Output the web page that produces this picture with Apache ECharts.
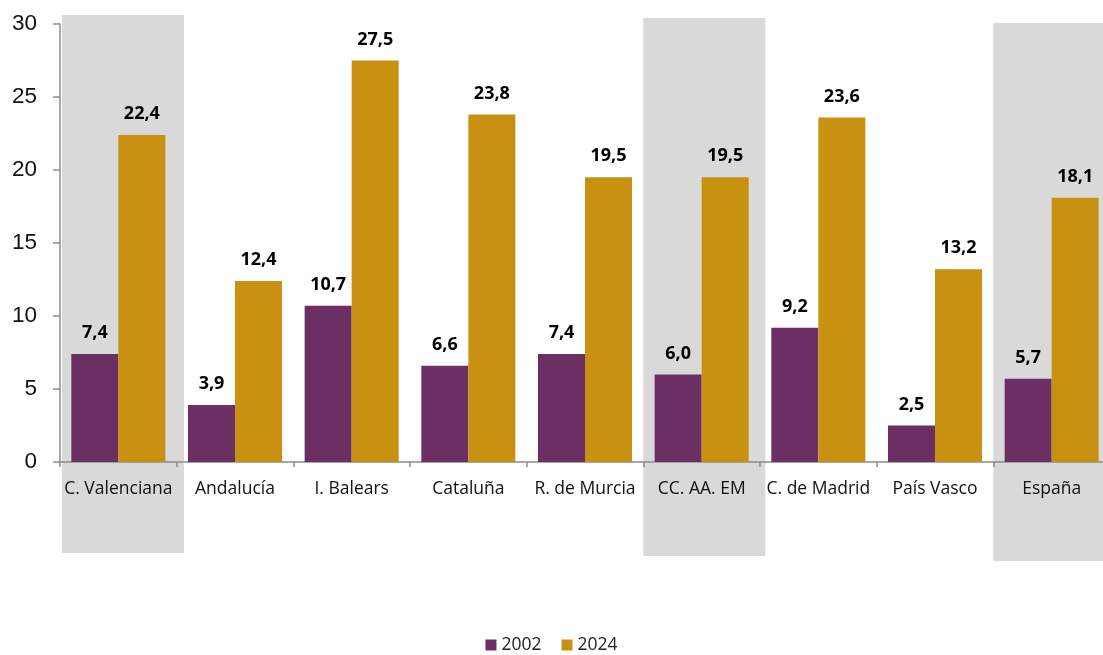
<!DOCTYPE html>
<html>
<head>
<meta charset="utf-8">
<script src="https://cdn.jsdelivr.net/npm/echarts@6/dist/echarts.min.js"></script>
<style>
html,body{margin:0;padding:0;background:#fff;}
#chart{width:1103px;height:655px;}
</style>
</head>
<body>
<div id="chart"></div>
<script>
const categories = ['C. Valenciana','Andalucía','I. Balears','Cataluña','R. de Murcia','CC. AA. EM','C. de Madrid','País Vasco','España'];
const values2002 = [7.4, 3.9, 10.7, 6.6, 7.4, 6.0, 9.2, 2.5, 5.7];
const values2024 = [22.4, 12.4, 27.5, 23.8, 19.5, 19.5, 23.6, 13.2, 18.1];
const highlighted = ['C. Valenciana','CC. AA. EM','España'];
const seriesNames = ['2002','2024'];

const chart = echarts.init(document.getElementById('chart'), null, {renderer:'canvas'});
const fmt = p => p.value.toFixed(1).replace('.', ',');
const labelStyle = {show:true, position:'top', distance:12, formatter:fmt,
  fontFamily:'Open Sans', fontWeight:'bold', fontSize:18, color:'#000'};

const option = {
  animation:false,
  backgroundColor:'#fff',
  grid:{left:60, top:24, bottom:193, width:1050, containLabel:false, outerBoundsMode:'none'},
  legend:{
    bottom:-4, left:'center', itemWidth:11, itemHeight:11, itemGap:20,
    icon:'rect',
    textStyle:{fontFamily:'Open Sans', fontSize:17.5, color:'#222'},
    data:seriesNames
  },
  xAxis:{
    type:'category', data:categories,
    axisLine:{lineStyle:{color:'#8c8c8c', width:1.5}},
    axisTick:{show:true, length:5, alignWithLabel:false, lineStyle:{color:'#8c8c8c', width:1.5}},
    axisLabel:{margin:18, fontFamily:'Open Sans', fontSize:17.5, color:'#111', interval:0}
  },
  yAxis:{
    type:'value', min:0, max:30, interval:5,
    splitLine:{show:false},
    axisLine:{show:true, lineStyle:{color:'#8c8c8c', width:1.5}},
    axisTick:{show:true, length:7, lineStyle:{color:'#8c8c8c', width:1.5}},
    axisLabel:{margin:23, fontFamily:'Liberation Sans', fontSize:22.5, color:'#111'}
  },
  series:[
    {name:seriesNames[0], type:'bar', data:values2002, barGap:'0%', barCategoryGap:'19.4%',
      itemStyle:{color:'#6B2F63'}, label:labelStyle, z:3},
    {name:seriesNames[1], type:'bar', data:values2024, barGap:'0%', barCategoryGap:'19.4%',
      itemStyle:{color:'#C99111'}, label:labelStyle, z:3}
  ]
};
chart.setOption(option);

// background highlight boxes positioned via the axis scale
const c0 = chart.convertToPixel({xAxisIndex:0}, 0);
const c1 = chart.convertToPixel({xAxisIndex:0}, 1);
const catW = c1 - c0;
const boxOffsets = [[2, 15],[0, 18],[0, 23]];
const elements = highlighted.map((name, i) => {
  const idx = categories.indexOf(name);
  const left = chart.convertToPixel({xAxisIndex:0}, idx) - catW/2 + boxOffsets[i][0];
  return {type:'rect', z:-10, silent:true,
    shape:{x:left, y:boxOffsets[i][1], width:122, height:538},
    style:{fill:'#D9D9D9'}};
});
chart.setOption({graphic:{elements}});
</script>
</body>
</html>
